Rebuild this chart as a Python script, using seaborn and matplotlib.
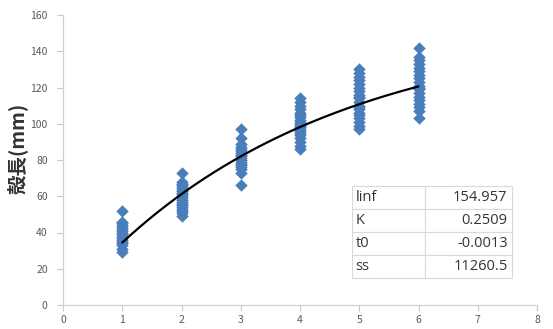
import numpy as np
import pandas as pd
import matplotlib
matplotlib.use("Agg")
import matplotlib.pyplot as plt
import seaborn as sns

# ---- data ----
age1 = [52, 46, 45, 44, 43, 42, 41, 40, 39, 38, 37, 36, 35, 34, 33, 31, 29]
age2 = [73, 68, 67, 66, 65, 64, 63, 62, 61, 60, 59, 58, 57, 56, 55, 54, 53, 52, 51, 49]
age3 = [97, 92, 89, 87, 86, 85, 84, 83, 82, 81, 80, 79, 78, 77, 76, 75, 73, 66]
age4 = [114, 112, 110, 108, 106, 105, 104, 102, 101, 100, 99, 98, 97, 96, 95, 94, 92, 90, 88, 86]
age5 = [130, 128, 126, 124, 122, 120, 118, 116, 115, 114, 112, 110, 109, 108, 106, 105, 103, 101, 99, 97]
age6 = [142, 137, 135, 133, 131, 129, 127, 125, 123, 121, 120, 119, 117, 115, 113, 111, 109, 107, 103]
ages = [1, 2, 3, 4, 5, 6]
groups = [age1, age2, age3, age4, age5, age6]

param_names = ["linf", "K", "t0", "ss"]
param_text = ["154.957", "0.2509", "-0.0013", "11260.5"]
linf, K, t0 = 154.957, 0.2509, -0.0013

xticks = [0, 1, 2, 3, 4, 5, 6, 7, 8]
yticks = [0, 20, 40, 60, 80, 100, 120, 140, 160]
ylabel = "殻長(mm)"

df = pd.DataFrame({
    "age": np.concatenate([[a] * len(g) for a, g in zip(ages, groups)]),
    "length": np.concatenate(groups),
})

tt = np.linspace(1, 6, 200)
fit = pd.DataFrame({"age": tt, "length": linf * (1 - np.exp(-K * (tt - t0)))})

# ---- plot ----
sns.set_style("white")
plt.rcParams["font.family"] = ["Noto Sans CJK JP", "DejaVu Sans"]

fig = plt.figure(figsize=(5.53, 3.29), dpi=100)
ax = fig.add_axes([63 / 553, 24 / 329, 474 / 553, 290 / 329])

sns.scatterplot(data=df, x="age", y="length", marker="D", s=36, color="#4a7ebb",
                edgecolor="#4a7ebb", linewidth=0.3, ax=ax, zorder=2)
sns.lineplot(data=fit, x="age", y="length", color="black", lw=1.6, ax=ax, zorder=3)

ax.set_xlim(0, 8)
ax.set_ylim(0, 160)
ax.set_xticks(xticks)
ax.set_yticks(yticks)
ax.set_xlabel("")
ax.set_ylabel(ylabel, fontsize=14, fontweight="bold", color="#333333")
ax.yaxis.set_label_coords(-0.074, 0.54)

for s in ["top", "right"]:
    ax.spines[s].set_visible(False)
for s in ["left", "bottom"]:
    ax.spines[s].set_color("#d0d0d0")
    ax.spines[s].set_linewidth(0.9)
ax.tick_params(axis="both", which="both", length=4, width=0.8, color="#c8c8c8",
               labelsize=7.5, labelcolor="#595959", direction="out", bottom=True, left=True)
ax.tick_params(axis="y", pad=7)

cell = [[n, v] for n, v in zip(param_names, param_text)]
tab = ax.table(cellText=cell, cellLoc="left",
               bbox=[289 / 474, 27 / 290, 160 / 474, 92 / 290], zorder=5)
tab.auto_set_font_size(False)
for (r, c), cl in tab.get_celld().items():
    cl.set_edgecolor("#d9d9d9")
    cl.set_linewidth(0.8)
    cl.set_facecolor("white")
    cl.get_text().set_fontsize(10.5)
    cl.get_text().set_color("#333333")
    cl.get_text().set_family(["Open Sans", "DejaVu Sans"])
    if c == 0:
        cl.set_width(73 / 474)
        cl.get_text().set_ha("left")
        cl.PAD = 0.05
    else:
        cl.set_width(87 / 474)
        cl.get_text().set_ha("right")
        cl._loc = "right"
        cl.PAD = 0.05

fig.savefig("out.png", dpi=100)
